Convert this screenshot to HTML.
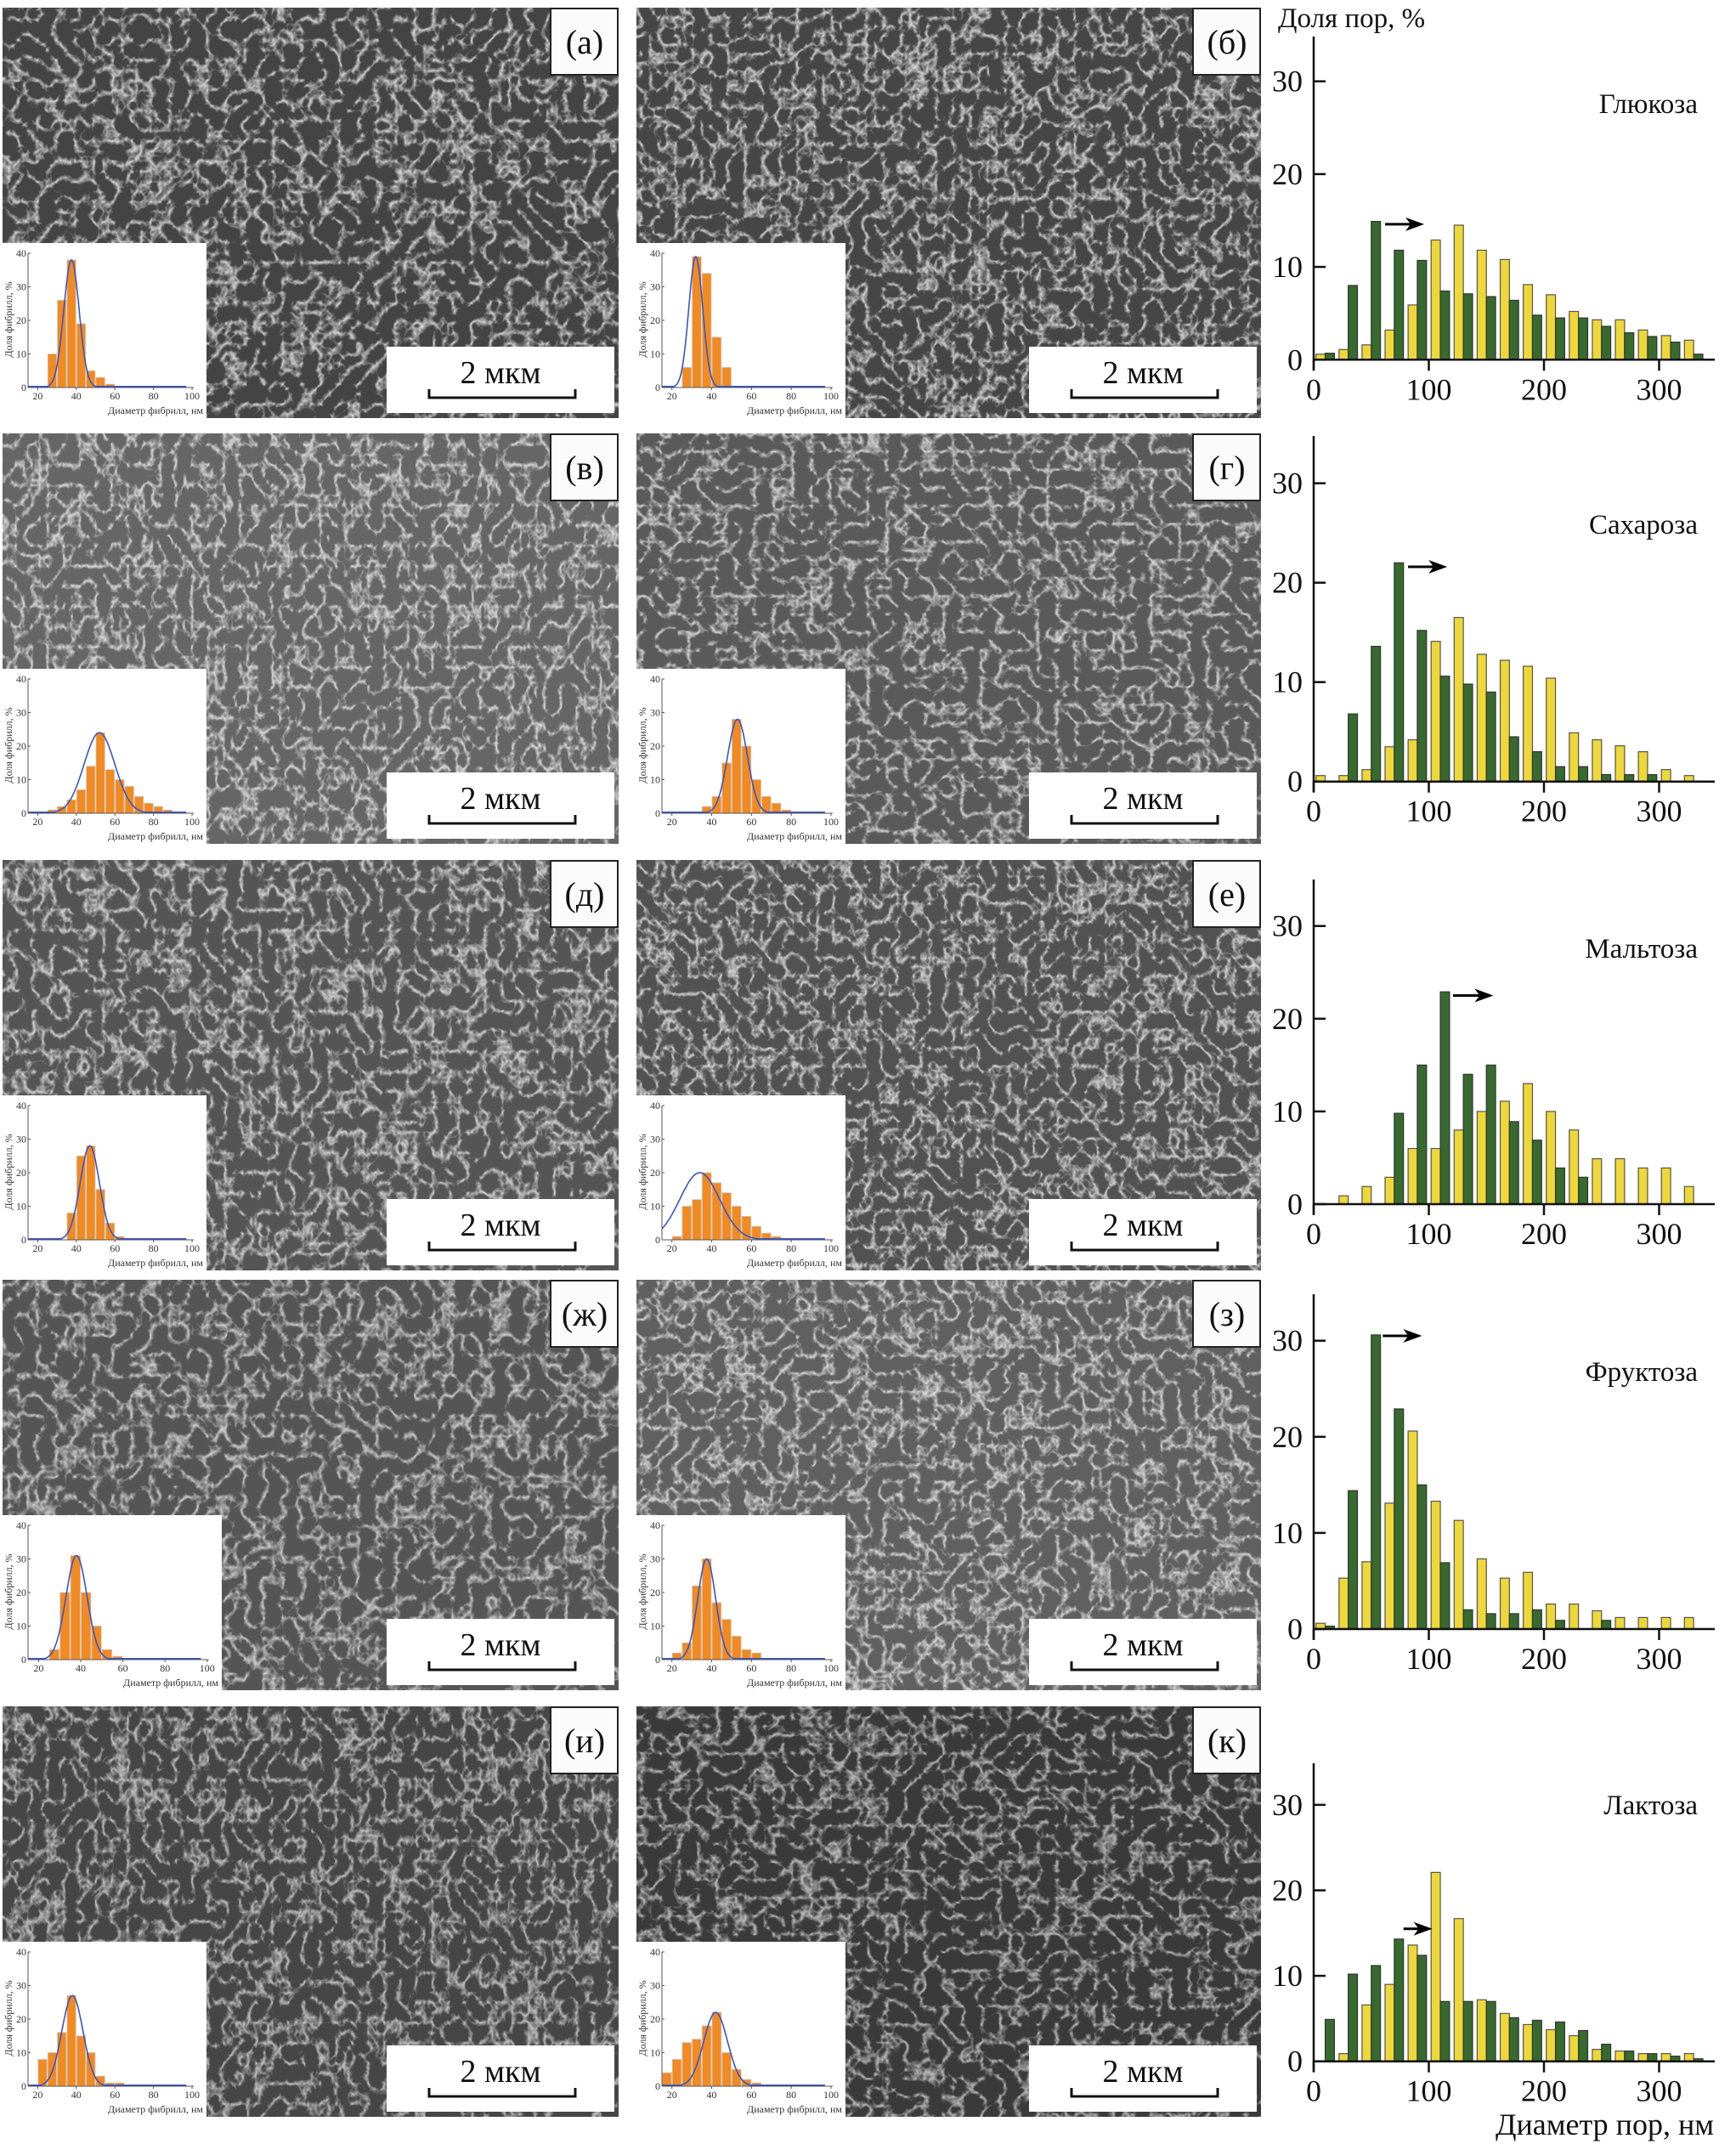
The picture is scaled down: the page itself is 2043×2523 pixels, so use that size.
<!DOCTYPE html>
<html><head><meta charset="utf-8"><title>Fibril and pore-size distributions</title>
<style>
html,body{margin:0;padding:0;background:#fff;}
svg{display:block;font-family:"Liberation Serif","DejaVu Serif",serif;}
</style></head>
<body>
<svg id="fig" xmlns="http://www.w3.org/2000/svg" width="2043" height="2523" viewBox="0 0 2043 2523">
<defs></defs>
<g id="panels"></g>
<g id="hists"></g>
</svg>
<script>
// ---------- pore histogram data (bins of 20 nm, starting at 0) ----------
const binStarts = [0,20,40,60,80,100,120,140,160,180,200,220,240,260,280,300,320];
const sugarNames = ["Глюкоза","Сахароза","Мальтоза","Фруктоза","Лактоза"];
const greenGlucose  = [0.7,8.0,14.9,11.8,10.7,7.4,7.1,6.8,6.4,4.8,4.5,4.5,3.6,2.9,2.5,1.9,0.6];
const yellowGlucose = [0.6,1.1,1.6,3.2,5.9,12.9,14.5,11.8,10.8,8.1,7.0,5.2,4.3,4.3,3.2,2.6,2.1];
const greenSucrose  = [0,6.8,13.6,22.0,15.2,10.6,9.8,9.0,4.5,3.0,1.5,1.5,0.7,0.7,0.7,0,0];
const yellowSucrose = [0.6,0.6,1.2,3.5,4.2,14.1,16.5,12.8,12.2,11.6,10.4,4.9,4.2,3.6,3.0,1.2,0.6];
const greenMaltose  = [0,0,0,9.8,15.0,22.9,14.0,15.0,8.9,6.9,3.9,2.9,0,0,0,0,0];
const yellowMaltose = [0,0.9,1.9,2.9,6.0,6.0,8.0,10.0,11.1,13.0,10.0,8.0,4.9,4.9,3.9,3.9,1.9];
const greenFructose = [0.3,14.4,30.6,22.9,15.0,6.9,2.0,1.6,1.6,2.0,0.9,0,0.9,0,0,0,0];
const yellowFructose= [0.6,5.3,7.0,13.1,20.6,13.3,11.3,7.3,5.3,5.9,2.6,2.6,1.9,1.2,1.2,1.2,1.2];
const greenLactose  = [4.9,10.2,11.2,14.3,12.4,7.0,7.0,7.0,5.1,4.8,4.6,3.6,2.0,1.2,0.9,0.6,0.3];
const yellowLactose = [0,0.9,6.6,9.0,13.6,22.1,16.7,7.2,5.6,4.3,3.7,3.0,1.4,1.2,0.9,0.9,0.9];
const greenSeries  = [greenGlucose,greenSucrose,greenMaltose,greenFructose,greenLactose];
const yellowSeries = [yellowGlucose,yellowSucrose,yellowMaltose,yellowFructose,yellowLactose];
const arrowFrom = [[62,14.6],[82,21.6],[121,22.5],[60,30.5],[78,15.5]];
const arrowTo   = [[96,14.6],[116,21.6],[156,22.5],[94,30.5],[103,15.5]];
const yTicks = [0,10,20,30];
const xTicks = [0,100,200,300];

// ---------- inset (fibril diameter) data, 5 nm bins ----------
const panelLabels = ["(а)","(б)","(в)","(г)","(д)","(е)","(ж)","(з)","(и)","(к)"];
const insetStart = [25,25,25,35,35,20,25,20,20,15];
const insetBars = [
 [10,26,38,19,5,3,1],
 [6,39,34,15,6],
 [1,2,4,7,14,24,13,10,8,5,3,2,1],
 [2,5,15,28,20,10,5,3,1],
 [8,25,28,15,5,1],
 [1,10,12,20,17,14,10,7,4,2,1],
 [3,20,31,20,10,3,1],
 [2,5,22,30,17,12,7,3,2],
 [8,10,16,27,15,10,3,1,1],
 [4,8,13,14,18,22,10,5,2,1]
];
const gaussPeak  = [38,39,24,28,28,20,31,30,27,22];
const gaussMean  = [37.5,32,52,53,47,34,38,37.5,38,42];
const gaussSigma = [4,3.5,8,5,5,10,5,4.5,5.5,6];
const insetYTicks = [0,10,20,30,40];
const insetXTicks = [20,40,60,80,100];

const NS="http://www.w3.org/2000/svg";
function mk(tag, attrs, parent){const e=document.createElementNS(NS,tag);for(const k in attrs)e.setAttribute(k,attrs[k]);if(parent)parent.appendChild(e);return e;}

// ---------- SEM panels ----------
const panelsG=document.getElementById('panels');
const rowTop=[9,510,1012,1506,2008];
const rowH=483;
const colL=[3,749], colR=[728,1484];
const baseCol=['#444444','#464646','#666666','#5a5a5a','#555555','#525252','#555555','#606060','#464646','#3a3a3a'];
const fibLev=[0.85,0.85,0.88,0.84,0.84,0.86,0.76,0.86,0.7,0.66];
const defs=document.querySelector('defs');
for(let r=0;r<5;r++){for(let c=0;c<2;c++){
  const idx=r*2+c;
  const x=colL[c], w=colR[c]-colL[c], y=rowTop[r];
  const f=mk('filter',{id:'sem'+idx,x:'0',y:'0',width:'100%',height:'100%'},defs);
  mk('feTurbulence',{type:'turbulence',baseFrequency:(0.045+0.004*(idx%3))+' '+(0.042+0.005*(idx%2)),numOctaves:'3',seed:String(idx*7+2)},f);
  const L=fibLev[idx];
  mk('feColorMatrix',{type:'matrix',values:`0 0 0 0 ${L}  0 0 0 0 ${L}  0 0 0 0 ${L}  -3.4 0 0 0 1.0`},f);
  const pg=mk('g',{},panelsG);
  
  
  mk('rect',{x:x,y:y,width:w,height:rowH,fill:baseCol[idx]},pg);
  mk('rect',{x:x,y:y,width:w,height:rowH,filter:'url(#sem'+idx+')',fill:'#000',opacity:0.9},pg);
  const lb=mk('g',{},pg);
  
  
  mk('rect',{x:x+w-80,y:y+1,width:79,height:78,fill:'#fbfbfb',stroke:'#222','stroke-width':2},lb);
  const t=mk('text',{x:x+w-40,y:y+54,'font-size':40,'text-anchor':'middle',fill:'#111'},lb);t.textContent=panelLabels[idx];
  const sb=mk('g',{},pg);
  
  
  const sx=x+w-273, sy=y+rowH-84;
  mk('rect',{x:sx,y:sy,width:268,height:78,fill:'#fff'},sb);
  const st=mk('text',{x:sx+134,y:sy+43,'font-size':38,'text-anchor':'middle',fill:'#111'},sb);st.textContent='2 мкм';
  mk('path',{d:`M${sx+50} ${sy+50} V${sy+60} H${sx+222} V${sy+50}`,fill:'none',stroke:'#111','stroke-width':3},sb);
  drawInset(pg, idx, x, y+rowH-206, (r===3&&c===0)?258:(c===0?240:246));
}}

function drawInset(parent, idx, ix, iy, iw){
  const g=mk('g',{},parent);
  
  
  mk('rect',{x:ix,y:iy,width:iw,height:206,fill:'#fff'},g);
  const ax=ix+30, ay=iy+170;
  const sx=(iw-44)/85;
  const X=v=>ax+(v-15)*sx*0.985;
  const Y=v=>ay-v*3.95;
  insetBars[idx].forEach((v,i)=>{
    const b0=insetStart[idx]+5*i;
    const b=mk('rect',{x:X(b0)+0.5,y:Y(v),width:X(b0+5)-X(b0)-1,height:ay-Y(v),fill:'#f28a22',stroke:'#c9c9c9','stroke-width':0.8},g);
    
    
  });
  let d='';
  for(let v=15;v<=97;v+=0.5){const yy=gaussPeak[idx]*Math.exp(-0.5*Math.pow((v-gaussMean[idx])/gaussSigma[idx],2));d+=(d?'L':'M')+X(v).toFixed(1)+' '+Y(Math.max(yy,0.3)).toFixed(1);}
  const cv=mk('path',{d:d,fill:'none',stroke:'#3b55c4','stroke-width':1.6},g);
  
  
  mk('line',{x1:ax,y1:iy+12,x2:ax,y2:ay,stroke:'#555','stroke-width':1},g);
  mk('line',{x1:ax,y1:ay,x2:X(100)+2,y2:ay,stroke:'#555','stroke-width':1},g);
  insetYTicks.forEach(v=>{mk('line',{x1:ax,y1:Y(v),x2:ax+3,y2:Y(v),stroke:'#555'},g);
    const t=mk('text',{x:ax-2,y:Y(v)+4,'font-size':12,'text-anchor':'end',fill:'#333'},g);t.textContent=v;});
  insetXTicks.forEach(v=>{mk('line',{x1:X(v),y1:ay,x2:X(v),y2:ay+3,stroke:'#555'},g);
    const t=mk('text',{x:X(v),y:ay+14,'font-size':12,'text-anchor':'middle',fill:'#333'},g);t.textContent=v;});
  const xt=mk('text',{x:ix+iw-4,y:iy+201,'font-size':12,'text-anchor':'end',fill:'#333'},g);xt.textContent='Диаметр фибрилл, нм';
  const yt=mk('text',{x:0,y:0,'font-size':12,'text-anchor':'middle',fill:'#333',transform:`translate(${ix+11},${iy+90}) rotate(-90)`},g);yt.textContent='Доля фибрилл, %';
}

// ---------- pore histograms ----------
const histG=document.getElementById('hists');
const hY0=[423.3,919.7,1417,1917,2425.7];
const hPPU=[10.92,11.7,10.91,11.31,10.06];
const hTop=[43,513,1035,1523,2075];
const nameY=[133,628,1127,1625,2135];
const X0=1546, PXN=1.355;
const hx=v=>X0+v*PXN;
for(let h=0;h<5;h++){
  const g=mk('g',{},histG);
  
  
  const hy=v=>hY0[h]-v*hPPU[h];
  binStarts.forEach((b,i)=>{
    const yv=yellowSeries[h][i], gv=greenSeries[h][i];
    if(yv>0){const r=mk('rect',{x:hx(b+2),y:hy(yv),width:hx(b+10)-hx(b+2),height:hY0[h]-hy(yv),fill:'#eed738',stroke:'#555','stroke-width':1.2},g);
      
      }
    if(gv>0){const r=mk('rect',{x:hx(b+10),y:hy(gv),width:hx(b+18)-hx(b+10),height:hY0[h]-hy(gv),fill:'#376a2e',stroke:'#333','stroke-width':1.2},g);
      
      }
  });
  const ya=mk('line',{x1:X0,y1:hTop[h],x2:X0,y2:hY0[h]+12,stroke:'#111','stroke-width':2.5},g);
  
  
  const xa=mk('line',{x1:X0,y1:hY0[h],x2:2018,y2:hY0[h],stroke:'#111','stroke-width':2.5},g);
  
  
  yTicks.forEach(v=>{mk('line',{x1:X0,y1:hy(v),x2:X0+14,y2:hy(v),stroke:'#111','stroke-width':2.5},g);
    const t=mk('text',{x:1533,y:hy(v)+12,'font-size':36,'text-anchor':'end',fill:'#111'},g);t.textContent=v;
    
    });
  xTicks.forEach(v=>{mk('line',{x1:hx(v),y1:hY0[h],x2:hx(v),y2:hY0[h]+13,stroke:'#111','stroke-width':2.5},g);
    const t=mk('text',{x:hx(v),y:hY0[h]+47,'font-size':36,'text-anchor':'middle',fill:'#111'},g);t.textContent=v;
    
    });
  const n=mk('text',{x:1998,y:nameY[h],'font-size':33,'text-anchor':'end',fill:'#111'},g);n.textContent=sugarNames[h];
  
  
  const a0=arrowFrom[h], a1=arrowTo[h];
  const ag=mk('g',{},g);
  
  
  mk('line',{x1:hx(a0[0]),y1:hy(a0[1]),x2:hx(a1[0])-14,y2:hy(a1[1]),stroke:'#000','stroke-width':3},ag);
  const tx=hx(a1[0]), ty=hy(a1[1]);
  mk('path',{d:`M${tx} ${ty} L${tx-22} ${ty-8} L${tx-16} ${ty} L${tx-22} ${ty+8} Z`,fill:'#000'},ag);
}
const tt=mk('text',{x:1504,y:32,'font-size':33,fill:'#111'},histG);tt.textContent='Доля пор, %';


const xt=mk('text',{x:2017,y:2512,'font-size':36,'text-anchor':'end',fill:'#111'},histG);xt.textContent='Диаметр пор, нм';


</script>
</body></html>
